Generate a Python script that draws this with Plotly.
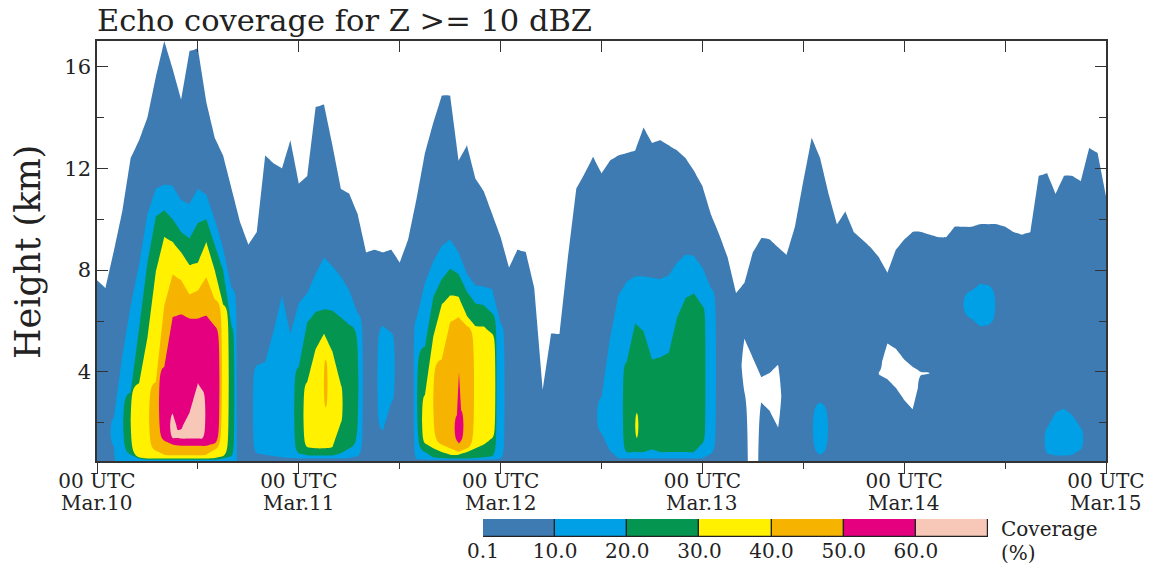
import numpy as np
import plotly.graph_objects as go

# Coverage classes (%) and their fill colours
levels = [0.1, 10, 20, 30, 40, 50, 60]
level_colors = ["#3e7bb3", "#00a0e6", "#049651", "#fff100", "#f6b300", "#e5007f", "#f7c8b8"]
day_labels = ["Mar.10", "Mar.11", "Mar.12", "Mar.13", "Mar.14", "Mar.15"]
height_ticks = [4, 8, 12, 16]
height_minor = [2, 6, 10, 14]

# Hours since 00 UTC Mar.10
hours = list(range(121))

# Echo top (km) of the >= 0.1 % coverage region, hourly
top_01 = [
    7.6, 7.3, 8.75, 10.3, 12.4, 13.1, 14.0, 15.6, 17.0, 15.9,
    14.7, 16.6, 16.7, 14.6, 13.2, 12.5, 11.2, 9.9, 9.0, 9.5,
    12.5, 12.2, 12.0, 13.1, 11.4, 11.7, 14.4, 14.5, 12.9, 11.2,
    11.0, 10.2, 8.7, 8.8, 8.7, 8.8, 8.3, 9.2, 10.8, 12.6,
    13.8, 14.85, 14.85, 12.3, 12.9, 11.6, 11.1, 10.2, 9.3, 8.1,
    8.8, 8.7, 7.3, 3.3, 5.5, 5.5, 8.5, 11.2, 11.8, 12.45,
    11.8, 12.3, 12.5, 12.6, 12.7, 13.6, 13.0, 13.1, 12.9, 12.7,
    12.4, 11.9, 11.3, 10.2, 9.4, 8.5, 7.1, 7.5, 8.7, 9.25,
    9.2, 8.9, 8.6, 9.7, 11.5, 13.2, 12.4, 11.0, 9.8, 10.3,
    9.5, 9.2, 8.9, 8.5, 7.9, 8.8, 9.2, 9.5, 9.5, 9.4,
    9.3, 9.3, 9.7, 9.7, 9.7, 9.8, 9.8, 9.8, 9.7, 9.5,
    9.4, 9.5, 11.7, 11.8, 11.0, 11.7, 11.7, 11.5, 12.8, 12.6,
    10.9,
]

# Echo-free gaps inside the >= 0.1 % region: (hour, lower km or None = ground, upper km)
gaps_01 = [
    (77, 3.2, 5.3), (78, None, 4.55), (79, 2.8, 3.8), (80, 2.47, 3.96), (81, 1.82, 4.28),
    (93, 3.9, 4.0), (94, 3.71, 5.12), (95, 3.38, 4.91), (96, 2.9, 4.49), (97, 2.53, 4.2),
    (98, 3.87, 4.0), (99, 3.94, 3.98),
]

# Higher classes: (hour, base km or None = ground, top km); (hour, None, None) = no echo
cov10 = [
    (1.5, None, None),
    (2, 1.1, 2.2), (3, None, 4.6), (4, None, 6.6), (5, None, 8.2), (6, None, 10.2),
    (7, None, 11.2), (8, None, 11.35), (9, None, 11.3), (10, None, 10.75), (11, None, 10.6),
    (12, None, 11.2), (13, None, 10.95), (14, None, 10.0), (15, None, 8.85), (16, None, 7.3),
    (16.65, None, None),
    (18.5, None, None),
    (19, 0.8, 4.25), (20, 0.75, 4.4), (21, 0.7, 5.6), (22, 0.65, 7.0), (23, 0.62, 5.5),
    (24, 0.6, 6.7), (25, 0.6, 7.1), (26, 0.6, 7.85), (27, 0.6, 8.5), (28, 0.6, 8.15),
    (29, 0.6, 7.75), (30, 0.62, 7.2), (31, 0.7, 6.3),
    (31.65, None, None),
    (33.3, None, None), (34, 1.7, 5.8), (35, 2.8, 5.55), (35.45, None, None),
    (37.65, None, None),
    (38, 0.58, 6.1), (39, 0.56, 7.5), (40, 0.55, 8.35), (41, 0.55, 8.95), (42, 0.55, 9.2),
    (43, 0.55, 8.7), (44, 0.55, 7.85), (45, 0.55, 7.4), (46, 0.55, 7.35), (47, 0.56, 7.25),
    (48, 0.6, 5.9),
    (48.5, None, None),
    (59.35, None, None),
    (60, 1.6, 3.0), (61, 0.9, 5.3), (62, 0.62, 7.0), (63, 0.6, 7.55), (64, 0.6, 7.75),
    (65, 0.6, 7.75), (66, 0.6, 7.7), (67, 0.6, 7.65), (68, 0.6, 7.8), (69, 0.6, 8.3),
    (70, 0.6, 8.6), (71, 0.6, 8.55), (72, 0.62, 8.1), (73, 0.78, 7.3),
    (73.65, None, None),
    (85.0, None, None), (86, 0.75, 2.8), (87.1, None, None),
    (102.75, None, None), (104, 6.1, 7.2), (105, 5.8, 7.45), (106, 5.85, 7.4), (107, None, None),
    (112.6, None, None), (113, 0.8, 1.8), (114, 0.72, 2.4), (115, 0.72, 2.55),
    (116, 0.75, 2.3), (117, 0.95, 1.8), (117.4, None, None),
]

cov20 = [
    (3.0, None, None),
    (4, 0.75, 3.2), (5, 0.6, 5.7), (6, 0.55, 8.3), (7, 0.55, 10.1), (8, 0.55, 10.35),
    (9, 0.55, 10.0), (10, 0.55, 9.5), (11, 0.55, 9.25), (12, 0.55, 9.85), (13, 0.55, 10.0),
    (14, 0.55, 9.0), (15, 0.6, 8.0), (16, 0.7, 5.8),
    (16.35, None, None),
    (23.4, None, None),
    (24, 0.8, 4.2), (25, 0.73, 5.95), (26, 0.72, 6.35), (27, 0.72, 6.45), (28, 0.72, 6.4),
    (29, 0.8, 6.15), (30, 1.0, 5.85),
    (31.15, None, None),
    (38.0, None, None),
    (39, 0.85, 5.0), (40, 0.65, 6.95), (41, 0.62, 7.65), (42, 0.6, 8.05), (43, 0.6, 7.85),
    (44, 0.6, 7.15), (45, 0.62, 6.7), (46, 0.65, 6.62), (47, 0.7, 6.3),
    (47.55, None, None),
    (62.5, None, None),
    (63, 0.85, 4.4), (64, 0.85, 5.9), (65, 0.85, 5.6), (66, 0.95, 4.5), (67, 0.85, 4.58),
    (68, 0.85, 4.75), (69, 0.85, 6.15), (70, 0.85, 6.9), (71, 0.85, 7.08), (72, 1.2, 6.6),
    (72.4, None, None),
]

cov30 = [
    (3.9, None, None),
    (5, 0.65, 3.55), (6, 0.6, 5.35), (7, 0.6, 7.95), (8, 0.6, 9.3), (9, 0.6, 9.1),
    (10, 0.6, 8.7), (11, 0.6, 8.2), (12, 0.6, 8.3), (13, 0.6, 9.1), (14, 0.62, 8.0),
    (15, 0.7, 6.65),
    (15.7, None, None),
    (24.5, None, None),
    (25, 1.05, 3.6), (26, 1.0, 4.9), (27, 1.0, 5.5), (28, 1.05, 4.8), (29, 2.0, 3.5),
    (29.25, None, None),
    (38.6, None, None),
    (39, 1.2, 3.1), (40, 1.0, 5.4), (41, 0.85, 6.65), (42, 0.75, 7.0), (43, 0.75, 6.95),
    (44, 0.85, 6.2), (45, 1.0, 5.8), (46, 1.15, 5.78), (47, 1.4, 5.5),
    (47.4, None, None),
    (63.95, None, None), (64.2, 1.4, 2.4), (64.45, None, None),
]

cov40 = [
    (6.1, None, None),
    (7, 0.9, 3.6), (8, 0.75, 6.6), (9, 0.73, 7.83), (10, 0.73, 7.6), (11, 0.73, 7.05),
    (12, 0.73, 7.2), (13, 0.75, 7.72), (14, 0.95, 6.85),
    (14.9, None, None),
    (26.95, None, None), (27.2, 2.6, 4.5), (27.45, None, None),
    (39.9, None, None),
    (41, 1.15, 4.5), (42, 1.0, 5.95), (43, 0.86, 6.15), (44, 1.0, 5.8),
    (44.9, None, None),
]

cov50 = [
    (7.3, None, None),
    (8, 1.3, 4.2), (9, 1.15, 6.15), (10, 1.1, 6.27), (11, 1.1, 6.1), (12, 1.1, 6.1),
    (13, 1.1, 6.22), (14, 1.2, 5.8),
    (14.6, None, None),
    (42.45, None, None), (42.8, 1.3, 2.3), (43.05, 1.2, 4.0), (43.3, 1.3, 2.5), (43.65, None, None),
]

cov60 = [
    (8.6, None, None),
    (9.0, 1.4, 2.37), (9.6, 1.4, 1.72), (10, 1.38, 1.75), (11, 1.38, 2.4), (12, 1.38, 3.55),
    (12.5, 1.38, 3.3),
    (12.95, None, None),
]

# ---- vertical grid and signed-thickness fields for each class ----
H = np.round(np.arange(0.5, 17.0 + 1e-9, 0.05), 3)
GROUND = -5.0      # base below the lowest level
EDGE = 0.15        # how fast a cell closes towards a no-echo column
GAP_EDGE = 2.0     # same for gaps inside the outer region


def shell_field(rows):
    rows = sorted(rows, key=lambda r: r[0])
    x = [r[0] for r in rows]
    z = np.empty((H.size, len(rows)))
    for j, (_, base, top) in enumerate(rows):
        if top is None:
            z[:, j] = -EDGE
        else:
            b = GROUND if base is None else base
            z[:, j] = np.minimum(H - b, top - H)
    return x, z


def outer_field():
    top = np.asarray(top_01, dtype=float)
    z = top[None, :] - H[:, None]
    gap = np.full(z.shape, 100.0)
    gap_hours = {g[0] for g in gaps_01}
    for hr in gap_hours:
        for nb in (hr - 1, hr + 1):
            if 0 <= nb < len(hours) and nb not in gap_hours:
                gap[:, nb] = GAP_EDGE
    for hr, lo, hi in gaps_01:
        lo = GROUND if lo is None else lo
        gap[:, hr] = np.maximum(lo - H, H - hi)
    return hours, np.minimum(z, gap)


def fill_trace(x, z, color):
    return go.Contour(
        x=x, y=H, z=z,
        autocontour=False,
        contours=dict(start=0, end=0.5, size=1, coloring="fill", showlines=False),
        colorscale=[[0, "rgba(255,255,255,0)"], [1, color]],
        line=dict(width=0),
        showscale=False,
        hoverinfo="skip",
    )


fig = go.Figure()
x0, z0 = outer_field()
fig.add_trace(fill_trace(x0, z0, level_colors[0]))
for rows, col in zip([cov10, cov20, cov30, cov40, cov50, cov60], level_colors[1:]):
    xs, zs = shell_field(rows)
    fig.add_trace(fill_trace(xs, zs, col))

# empty trace so the top axis is drawn
fig.add_trace(go.Scatter(x=[], y=[], xaxis="x2", yaxis="y", showlegend=False, hoverinfo="skip"))

# colour key
n = len(levels)
fig.add_trace(go.Bar(
    x=[i + 0.5 for i in range(n)], y=[1] * n, width=1,
    marker=dict(color=level_colors, line=dict(color="#222222", width=1.2)),
    xaxis="x3", yaxis="y3", hoverinfo="skip", cliponaxis=False, showlegend=False,
))

W, Hpx = 1153, 569
px_x = lambda v: v / W
px_y = lambda v: 1 - v / Hpx

day_hours = [24 * i for i in range(len(day_labels))]
half_days = [24 * i + 12 for i in range(len(day_labels) - 1)]
axis_col = "#333333"
text_col = "#222222"
tick_font = dict(family="DejaVu Serif", size=20, color=text_col)

# second line of the time labels (date under "00 UTC")
date_notes = [
    dict(text=d, x=h, y=px_y(503), xref="x", yref="paper",
         xanchor="center", yanchor="middle", showarrow=False, font=tick_font)
    for d, h in zip(day_labels, day_hours)
]

fig.update_layout(
    width=W, height=Hpx,
    margin=dict(l=0, r=0, t=0, b=0),
    paper_bgcolor="white", plot_bgcolor="white",
    showlegend=False,
    font=dict(family="DejaVu Serif", size=20, color=text_col),
    title=dict(
        text="Echo coverage for Z >= 10 dBZ",
        x=px_x(97), xanchor="left", xref="container",
        y=px_y(20), yanchor="middle", yref="container",
        font=dict(family="DejaVu Serif", size=30.5, color=text_col),
    ),
    bargap=0,
    xaxis=dict(
        domain=[px_x(97), px_x(1106)], anchor="y", range=[0, 120],
        tickmode="array", tickvals=day_hours,
        ticktext=["00 UTC"] * len(day_hours),
        ticks="outside", ticklen=11, tickwidth=1.3, tickcolor=axis_col,
        ticklabelstandoff=-10,
        minor=dict(tickmode="array", tickvals=half_days, ticks="outside",
                   ticklen=6, tickwidth=1.3, tickcolor=axis_col),
        showline=True, linecolor=axis_col, linewidth=1.5,
        showgrid=False, zeroline=False, tickfont=tick_font, automargin=False,
    ),
    xaxis2=dict(
        overlaying="x", side="top", anchor="y", range=[0, 120],
        tickmode="array", tickvals=day_hours, showticklabels=False,
        ticks="inside", ticklen=11, tickwidth=1.3, tickcolor=axis_col,
        minor=dict(tickmode="array", tickvals=half_days, ticks="inside",
                   ticklen=11, tickwidth=1.3, tickcolor=axis_col),
        showline=True, linecolor=axis_col, linewidth=1.5,
        showgrid=False, zeroline=False, automargin=False,
    ),
    yaxis=dict(
        domain=[px_y(461), px_y(41)], anchor="x", range=[0.5, 17],
        tickmode="array", tickvals=height_ticks,
        ticks="inside", ticklen=11, tickwidth=1.3, tickcolor=axis_col,
        minor=dict(tickmode="array", tickvals=height_minor, ticks="inside",
                   ticklen=7, tickwidth=1.3, tickcolor=axis_col),
        showline=True, mirror="ticks", linecolor=axis_col, linewidth=1.5,
        showgrid=False, zeroline=False, tickfont=dict(tick_font, size=21),
        automargin=False,
    ),
    xaxis3=dict(
        domain=[px_x(483), px_x(988)], anchor="y3", range=[0, n],
        tickmode="array", tickvals=list(range(n)),
        ticktext=[f"{v:.1f}" for v in levels],
        ticks="", showline=False, showgrid=False, zeroline=False,
        tickfont=tick_font, automargin=False,
    ),
    yaxis3=dict(domain=[px_y(537), px_y(519)], anchor="x3", range=[0, 1], visible=False),
    annotations=date_notes + [
        dict(text="Height (km)", textangle=-90, x=px_x(28), y=px_y(252),
             xref="paper", yref="paper", xanchor="center", yanchor="middle",
             showarrow=False, font=dict(family="DejaVu Serif", size=35, color=text_col)),
        dict(text="Coverage", x=px_x(999), y=px_y(529), xref="paper", yref="paper",
             xanchor="left", yanchor="middle", showarrow=False, font=tick_font),
        dict(text="(%)", x=px_x(999), y=px_y(553), xref="paper", yref="paper",
             xanchor="left", yanchor="middle", showarrow=False, font=tick_font),
    ],
)

fig.write_html("out.html")
